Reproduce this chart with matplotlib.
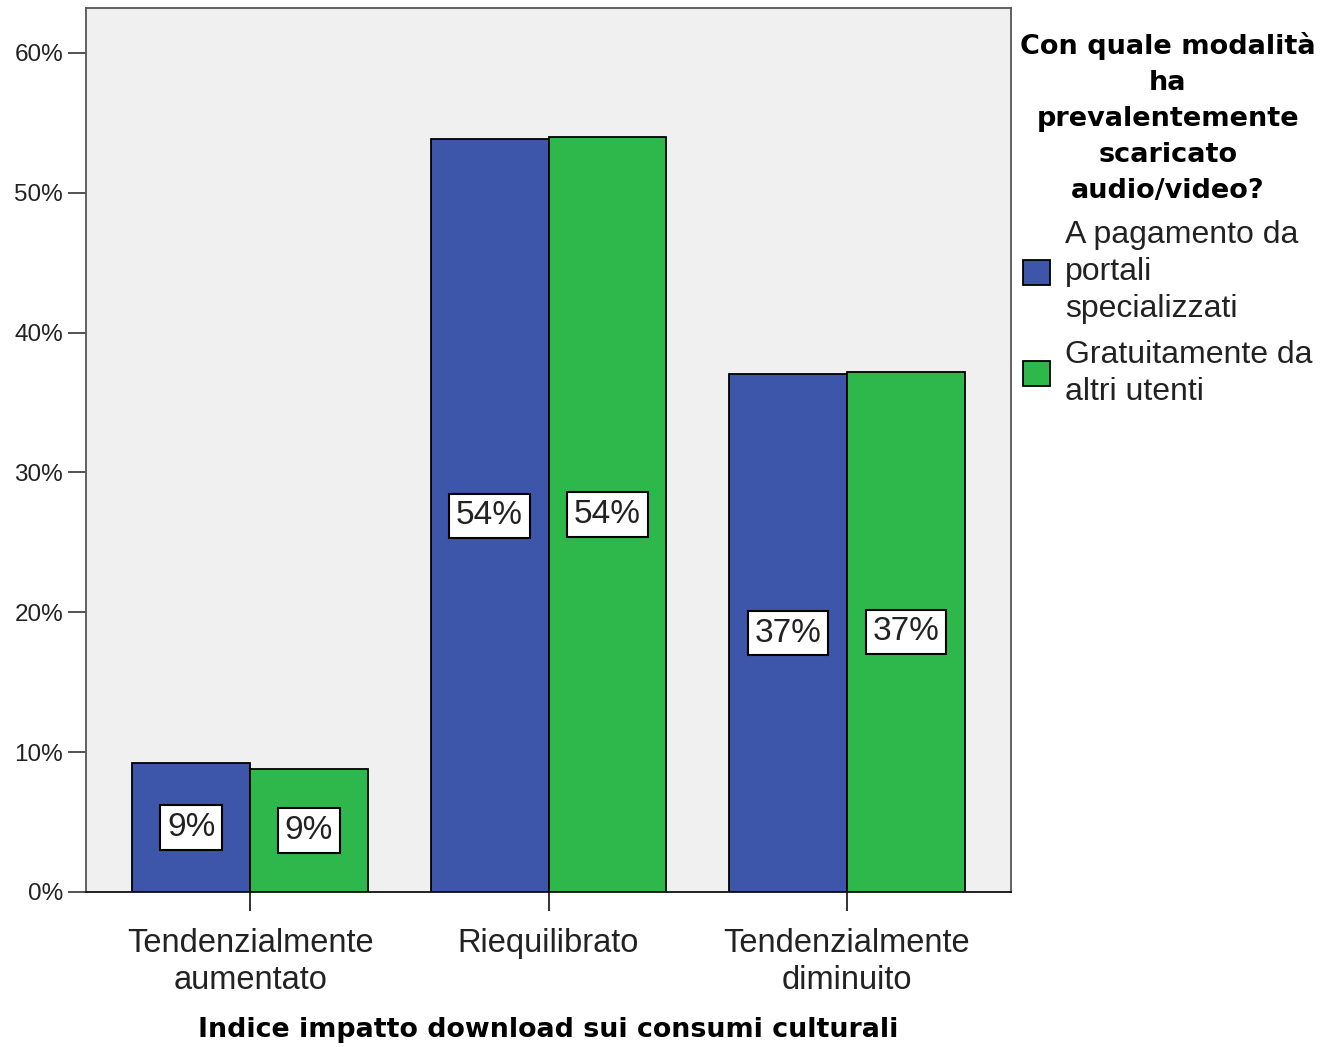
import matplotlib.pyplot as plt
from matplotlib.patches import Patch
import numpy as np

# Data
categories = ["Tendenzialmente\naumentato", "Riequilibrato", "Tendenzialmente\ndiminuito"]
series_names = ["A pagamento da\nportali\nspecializzati", "Gratuitamente da\naltri utenti"]
paid = [9.2, 53.8, 37.0]
free = [8.8, 54.0, 37.2]
yticks = [0, 10, 20, 30, 40, 50, 60]

colors = ["#3e56a9", "#2eb84b"]
reg = "Liberation Sans"
bold = "DejaVu Sans"

fig = plt.figure(figsize=(13.24, 10.47), dpi=100)
ax = fig.add_axes([86 / 1324, 1 - 892 / 1047, (1011 - 86) / 1324, (892 - 8) / 1047])
ax.set_facecolor("#f0f0f0")

x = np.arange(len(categories))
w = 0.395
for i, (vals, col) in enumerate(zip([paid, free], colors)):
    pos = x + (i - 0.5) * w
    bars = ax.bar(pos, vals, width=w, color=col, edgecolor="black", linewidth=1.3,
                  label=series_names[i], zorder=2)
    for b, v in zip(bars, vals):
        ax.text(b.get_x() + b.get_width() / 2, v / 2, f"{round(v)}%",
                ha="center", va="center", fontsize=24, family=reg, color="#222222",
                bbox=dict(boxstyle="square,pad=0.2", fc="white", ec="black", lw=1.5),
                zorder=3)

ax.set_xlim(-0.55, 2.55)
ax.set_ylim(0, 63.2)
ax.set_yticks(yticks)
ax.set_yticklabels([f"{t}%" for t in yticks], fontsize=17.5, family=reg, color="#222222")
ax.set_xticks(x)
ax.set_xticklabels(categories, fontsize=23.5, family=reg, color="#222222", linespacing=1.25)
ax.tick_params(axis="y", length=13, width=1.3, pad=3.5, color="#444444")
ax.tick_params(axis="x", length=14, width=1.3, pad=12, color="#222222")
for s in ["left", "top", "right"]:
    ax.spines[s].set_color("#555555")
    ax.spines[s].set_linewidth(1.3)
ax.spines["bottom"].set_color("#111111")
ax.spines["bottom"].set_linewidth(1.3)

ax.set_xlabel("Indice impatto download sui consumi culturali", fontsize=19.4,
              family=bold, fontweight="bold", labelpad=15)

handles = [Patch(facecolor=c, edgecolor="black", linewidth=1.3) for c in colors]
leg = fig.legend(handles, series_names, loc="upper left",
                 bbox_to_anchor=(1020 / 1324, 1 - 32 / 1047),
                 frameon=False, borderpad=0, borderaxespad=0,
                 prop=dict(family=reg, size=23),
                 title="Con quale modalità\nha\nprevalentemente\nscaricato\naudio/video?",
                 title_fontproperties=dict(family=bold, weight="bold", size=19.5),
                 alignment="center", handlelength=0.85, handleheight=0.85,
                 handletextpad=0.45, labelspacing=0.5)
leg.get_title().set_linespacing(1.5)
leg.get_title().set_multialignment("center")
for t in leg.get_texts():
    t.set_linespacing(1.3)
    t.set_color("#222222")

fig.savefig("out.png", dpi=100)
